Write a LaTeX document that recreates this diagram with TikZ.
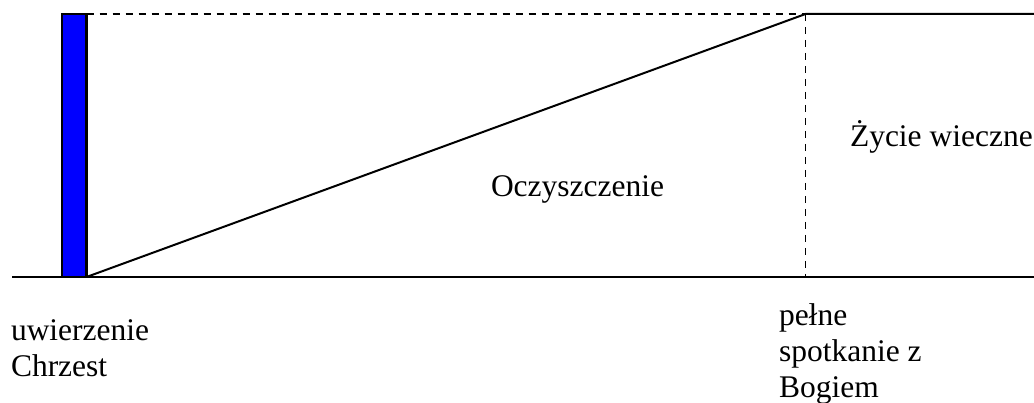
\documentclass[tikz,border=0pt]{standalone}
\usepackage{fontspec}
\setmainfont{Liberation Serif}
\begin{document}
\begin{tikzpicture}[x=1pt, y=-1pt, line width=2pt,
    every node/.style={inner sep=0pt, font=\fontsize{31.5}{36.5}\selectfont},
    dashline/.style={dash pattern=on 7pt off 6pt, line width=1.8pt}]
    \useasboundingbox (0,0) rectangle (1034,403);
    \coordinate (bl) at (62,277);
    \coordinate (tr) at (86.5,14);
    \coordinate (meet) at (805.5,14);
    \coordinate (foot) at (805.5,277);
    \draw[line width=2.4pt] (12,277) -- (1034,277);
    \draw[fill=blue, line width=2.4pt] (bl) rectangle (tr);
    \draw[dashline] (tr) -- (meet);
    \draw (86.5,277) -- (meet) -- (1034,14);
    \draw[dashline] (meet) -- (foot);
    \node[anchor=base west] (oczy) at (490,197) {Oczyszczenie};
    \node[anchor=base west] (zycie) at (849,147) {Życie wieczne};
    \node[anchor=base west, align=left] (start) at (10,377) {uwierzenie\\Chrzest};
    \node[anchor=base west, align=left] (koniec) at (778,398) {pełne\\spotkanie z\\Bogiem};
\end{tikzpicture}
\end{document}
